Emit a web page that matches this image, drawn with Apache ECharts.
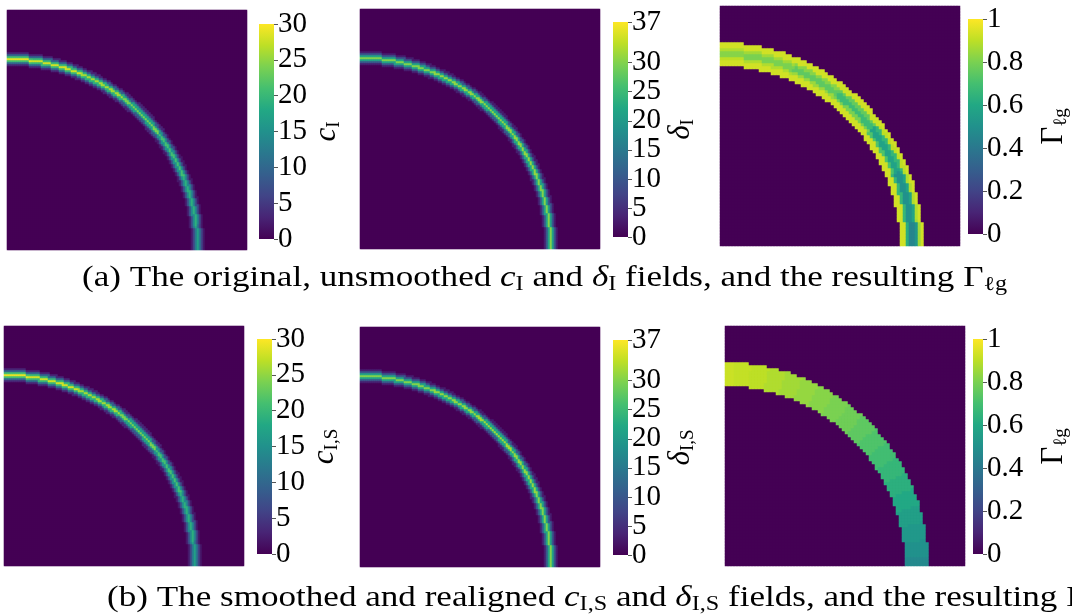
<!DOCTYPE html>
<html><head><meta charset="utf-8">
<script src="https://cdn.jsdelivr.net/npm/echarts@6/dist/echarts.min.js"></script>
<style>html,body{margin:0;padding:0;background:#fff}#c{width:1072px;height:615px}
.fl{position:absolute;left:-9999px;top:0;font-family:'Liberation Serif'}</style>
</head><body><div id="c"></div>
<span class="fl">0.8 The δ Γ ℓg</span><span class="fl" style="font-style:italic">c δ</span>
<script>
// ---------------- DATA ----------------
const viridis = ['#440154','#482475','#414487','#355f8d','#2a788e','#21918c','#22a884','#44bf70','#7ad151','#bddf26','#fde725'];

const ticksC = [0, 5, 10, 15, 20, 25, 30];
const ticksDelta = [0, 5, 10, 15, 20, 25, 30, 37];
const ticksGamma = [0, 0.2, 0.4, 0.6, 0.8, 1];

// ring-shaped fields: rows = polar angle (deg, 0 = bottom edge, 90 = left edge), cols = radial offset in cells
const ringAngles = [0, 15, 30, 45, 60, 75, 90];
const ringOffsets = [-3, -2, -1, 0, 1, 2, 3];
const ringRadius = 0.797;          // ring centre radius (fraction of domain side)
const fineCells = 120;             // cells per side of the c / delta fields

const cI = [
  [2, 6, 12, 17, 12, 6, 2],
  [2, 7, 14, 19, 14, 7, 2],
  [2, 7, 15, 21, 15, 7, 2],
  [3, 8, 17, 24, 17, 8, 3],
  [3, 9, 19, 26, 19, 9, 3],
  [3, 10, 20, 28, 20, 10, 3],
  [3, 10, 21, 29, 21, 10, 3]
];
const deltaI = [
  [3, 10, 21, 30, 21, 10, 3],
  [3, 10, 21, 30, 21, 10, 3],
  [3, 10, 22, 31, 22, 10, 3],
  [3, 10, 22, 31, 22, 10, 3],
  [3, 10, 22, 31, 22, 10, 3],
  [3, 10, 21, 30, 21, 10, 3],
  [3, 10, 21, 30, 21, 10, 3]
];
const cIS = [
  [2, 6, 12, 17, 12, 6, 2],
  [2, 7, 14, 19, 14, 7, 2],
  [2, 7, 15, 21, 15, 7, 2],
  [3, 8, 17, 24, 17, 8, 3],
  [3, 9, 19, 26, 19, 9, 3],
  [3, 10, 20, 28, 20, 10, 3],
  [3, 10, 21, 29, 21, 10, 3]
];
const deltaIS = [
  [3, 10, 21, 30, 21, 10, 3],
  [3, 10, 21, 30, 21, 10, 3],
  [3, 10, 22, 31, 22, 10, 3],
  [3, 10, 22, 32, 22, 10, 3],
  [3, 10, 22, 31, 22, 10, 3],
  [3, 10, 21, 30, 21, 10, 3],
  [3, 10, 21, 30, 21, 10, 3]
];

// Gamma band fields (coarse mesh)
const coarseCells = 80;
const bandInner = 0.75;            // inner radius of the band
const bandCellsWide = 8;           // band thickness in coarse cells
const gammaAAngles = [0, 15, 30, 45, 60, 75, 90];
const gammaA = [  // cols: radial cells from inner to outer edge of the band
  [0.93, 0.93, 0.62, 0.45, 0.45, 0.52, 0.86, 0.93],
  [0.93, 0.93, 0.66, 0.50, 0.50, 0.58, 0.88, 0.93],
  [0.93, 0.93, 0.72, 0.58, 0.58, 0.66, 0.90, 0.93],
  [0.93, 0.93, 0.80, 0.68, 0.68, 0.76, 0.92, 0.93],
  [0.93, 0.93, 0.85, 0.75, 0.75, 0.82, 0.93, 0.93],
  [0.93, 0.93, 0.88, 0.80, 0.80, 0.86, 0.93, 0.93],
  [0.93, 0.93, 0.90, 0.82, 0.82, 0.88, 0.93, 0.93]
];
// smoothed Gamma: uniform across the band, varies along the arc
const gammaBAngles = [0, 5, 10, 15, 20, 25, 30, 35, 40, 45, 50, 55, 60, 65, 70, 75, 80, 85, 90];
const gammaB = [0.47, 0.50, 0.53, 0.56, 0.60, 0.63, 0.66, 0.69, 0.72, 0.75, 0.78, 0.80, 0.82, 0.84, 0.86, 0.88, 0.90, 0.91, 0.92];

// ---------------- BUILD CELLS (table lookups) ----------------
function nearestIdx(arr, v) {
  let b = 0;
  for (let k = 1; k < arr.length; k++) if (Math.abs(arr[k] - v) < Math.abs(arr[b] - v)) b = k;
  return b;
}
function ringCells(table) {
  const N = fineCells, out = [];
  for (let i = 0; i < N; i++) for (let j = 0; j < N; j++) {
    const x = (i + 0.5) / N, y = (j + 0.5) / N;
    const r = Math.hypot(x, y), th = Math.atan2(y, x) * 180 / Math.PI;
    const off = Math.round((r - ringRadius) * N);
    let v = 0;
    const col = ringOffsets.indexOf(off);
    if (col >= 0) v = table[nearestIdx(ringAngles, th)][col];
    out.push([i, j, v]);
  }
  return out;
}
function bandCells(lookup, angles) {
  const N = coarseCells, out = [];
  for (let i = 0; i < N; i++) for (let j = 0; j < N; j++) {
    const x = (i + 0.5) / N, y = (j + 0.5) / N;
    const r = Math.hypot(x, y), th = Math.atan2(y, x) * 180 / Math.PI;
    const k = Math.floor((r - bandInner) * N);
    let v = 0;
    if (k >= 0 && k < bandCellsWide) v = lookup(nearestIdx(angles, th), k);
    out.push([i, j, v]);
  }
  return out;
}

// ---------------- LAYOUT ----------------
const FONT = 'Liberation Serif';
const sub = { fontSize: 19, lineHeight: 20, verticalAlign: 'bottom', fontFamily: FONT, color: '#000' };
const panels = [
  { main: [7, 10], cb: [259, 24], cells: ringCells(cI), N: fineCells, max: 30, ticks: ticksC, name: '{i|c}{s|I}', gap: 33 },
  { main: [360, 9], cb: [613, 22], cells: ringCells(deltaI), N: fineCells, max: 37, ticks: ticksDelta, name: '{i|δ}{s|I}', gap: 36 },
  { main: [720, 6], cb: [968, 19], cells: bandCells((a, k) => gammaA[a][k], gammaAAngles), N: coarseCells, max: 1, ticks: ticksGamma, name: '{r|Γ}{s|ℓg}', gap: 54 },
  { main: [4, 326], cb: [257, 339], cells: ringCells(cIS), N: fineCells, max: 30, ticks: ticksC, name: '{i|c}{s|I,S}', gap: 33 },
  { main: [360, 327], cb: [613, 340], cells: ringCells(deltaIS), N: fineCells, max: 37, ticks: ticksDelta, name: '{i|δ}{s|I,S}', gap: 36 },
  { main: [725, 326], cb: [973, 339], cells: bandCells((a) => gammaB[a], gammaBAngles), N: coarseCells, max: 1, ticks: ticksGamma, name: '{r|Γ}{s|ℓg}', gap: 54 }
];

function draw() {
  const grid = [], xAxis = [], yAxis = [], series = [], visualMap = [];
  panels.forEach((p, k) => {
    const cats = Array.from({ length: p.N }, (_, i) => i);
    grid.push({ left: p.main[0], top: p.main[1], width: 240, height: 240 });
    grid.push({ left: p.cb[0], top: p.cb[1], width: 15, height: 215 });
    xAxis.push({ type: 'category', data: cats, gridIndex: 2 * k, show: false });
    yAxis.push({ type: 'category', data: cats, gridIndex: 2 * k, show: false });
    xAxis.push({ type: 'category', data: ['bar'], gridIndex: 2 * k + 1, show: false });
    yAxis.push({
      type: 'value', gridIndex: 2 * k + 1, position: 'right', min: 0, max: p.max,
      axisLine: { show: false }, splitLine: { show: false },
      axisTick: { show: true, length: 4, customValues: p.ticks, lineStyle: { color: '#555', width: 1 } },
      axisLabel: { show: true, margin: 4, customValues: p.ticks, showMinLabel: true, showMaxLabel: true, hideOverlap: false,
        fontFamily: FONT, fontSize: 29, lineHeight: 20, color: '#000' },
      name: p.name, nameLocation: 'middle', nameRotate: 90, nameGap: p.gap,
      nameTextStyle: {
        fontFamily: FONT, fontSize: 30, color: '#000',
        rich: {
          i: { fontFamily: FONT, fontSize: 31, fontStyle: 'italic', lineHeight: 34, color: '#000' },
          r: { fontFamily: FONT, fontSize: 31, lineHeight: 34, color: '#000' },
          s: sub
        }
      }
    });
    const si = series.length;
    series.push({
      type: 'heatmap', xAxisIndex: 2 * k, yAxisIndex: 2 * k, data: p.cells,
      progressive: 0, silent: true, emphasis: { disabled: true }
    });
    visualMap.push({ show: false, type: 'continuous', seriesIndex: si, min: 0, max: p.max, inRange: { color: viridis } });
    series.push({
      type: 'bar', xAxisIndex: 2 * k + 1, yAxisIndex: 2 * k + 1, data: [p.max], barWidth: '100%', silent: true,
      itemStyle: { color: new echarts.graphic.LinearGradient(0, 1, 0, 0, viridis.map((c, i) => ({ offset: i / (viridis.length - 1), color: c }))) }
    });
  });

  const capRich = {
    i: { fontFamily: FONT, fontSize: 29, fontStyle: 'italic', lineHeight: 34, fill: '#000' },
    s: { fontFamily: FONT, fontSize: 20, lineHeight: 20, verticalAlign: 'bottom', fill: '#000' }
  };
  function caption(text, x, y, sx) {
    return {
      type: 'text', x: x, y: y, scaleX: sx, scaleY: 1, silent: true,
      style: { text: text, fontFamily: FONT, fontSize: 29, lineHeight: 34, fill: '#000', rich: capRich, verticalAlign: 'top', align: 'left' }
    };
  }
  const graphic = [
    caption('(a) The original, unsmoothed {i|c}{s|I} and {i|δ}{s|I} fields, and the resulting Γ{s|ℓg}', 82, 261, 1.21),
    caption('(b) The smoothed and realigned {i|c}{s|I,S} and {i|δ}{s|I,S} fields, and the resulting Γ{s|ℓg}', 107, 581, 1.21)
  ];

  const chart = echarts.init(document.getElementById('c'), null, { renderer: 'canvas' });
  chart.setOption({ animation: false, backgroundColor: '#fff', grid, xAxis, yAxis, series, visualMap, graphic });
}

let drawn = false;
function go() { if (!drawn) { drawn = true; draw(); } }
if (document.fonts && document.fonts.load) {
  Promise.all([
    document.fonts.load('29px "Liberation Serif"', '0.8 The δΓℓg'),
    document.fonts.load('italic 29px "Liberation Serif"', 'cδ')
  ]).then(() => document.fonts.ready).then(go, go);
  setTimeout(go, 1500);
} else { go(); }
</script></body></html>
